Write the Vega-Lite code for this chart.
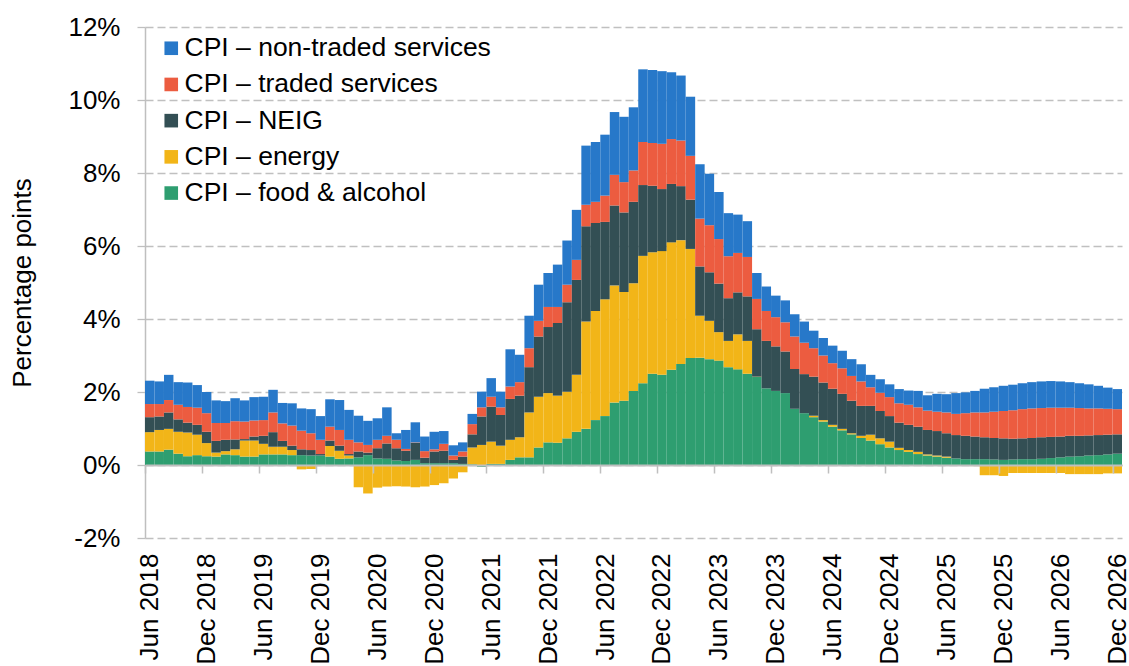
{
 "$schema": "https://vega.github.io/schema/vega-lite/v6.json",
 "width": 977, "height": 511,
 "autosize": {"type": "none"},
 "padding": {"left": 145, "top": 27, "right": 7, "bottom": 128},
 "background": "white",
 "config": {"font": "Liberation Sans", "view": {"stroke": null}},
 "datasets": {
  "series": [
   {"k": "s", "name": "CPI – non-traded services", "rank": 5},
   {"k": "t", "name": "CPI – traded services", "rank": 4},
   {"k": "n", "name": "CPI – NEIG", "rank": 3},
   {"k": "e", "name": "CPI – energy", "rank": 2},
   {"k": "f", "name": "CPI – food & alcohol", "rank": 1}
  ],
  "cpi": [
   {"m":"Jun 2018","f":0.37,"e":0.53,"n":0.41,"t":0.36,"s":0.64},
   {"m":"Jul 2018","f":0.37,"e":0.59,"n":0.37,"t":0.34,"s":0.62},
   {"m":"Aug 2018","f":0.42,"e":0.57,"n":0.45,"t":0.34,"s":0.69},
   {"m":"Sep 2018","f":0.31,"e":0.60,"n":0.34,"t":0.40,"s":0.62},
   {"m":"Oct 2018","f":0.24,"e":0.65,"n":0.27,"t":0.43,"s":0.67},
   {"m":"Nov 2018","f":0.27,"e":0.56,"n":0.27,"t":0.47,"s":0.62},
   {"m":"Dec 2018","f":0.24,"e":0.36,"n":0.31,"t":0.51,"s":0.58},
   {"m":"Jan 2019","f":0.23,"e":0.11,"n":0.32,"t":0.49,"s":0.62},
   {"m":"Feb 2019","f":0.29,"e":0.09,"n":0.31,"t":0.46,"s":0.60},
   {"m":"Mar 2019","f":0.27,"e":0.16,"n":0.27,"t":0.50,"s":0.63},
   {"m":"Apr 2019","f":0.23,"e":0.44,"n":0.04,"t":0.48,"s":0.58},
   {"m":"May 2019","f":0.23,"e":0.44,"n":0.11,"t":0.44,"s":0.64},
   {"m":"Jun 2019","f":0.29,"e":0.29,"n":0.22,"t":0.43,"s":0.64},
   {"m":"Jul 2019","f":0.29,"e":0.21,"n":0.40,"t":0.54,"s":0.62},
   {"m":"Aug 2019","f":0.29,"e":0.21,"n":0.16,"t":0.48,"s":0.56},
   {"m":"Sep 2019","f":0.27,"e":0.14,"n":0.12,"t":0.55,"s":0.61},
   {"m":"Oct 2019","f":0.27,"e":-0.12,"n":0.16,"t":0.51,"s":0.61},
   {"m":"Nov 2019","f":0.26,"e":-0.11,"n":0.15,"t":0.46,"s":0.66},
   {"m":"Dec 2019","f":0.26,"e":-0.02,"n":0.04,"t":0.39,"s":0.65},
   {"m":"Jan 2020","f":0.23,"e":0.29,"n":0.15,"t":0.38,"s":0.75},
   {"m":"Feb 2020","f":0.17,"e":0.22,"n":0.14,"t":0.43,"s":0.82},
   {"m":"Mar 2020","f":0.18,"e":0.08,"n":0.04,"t":0.39,"s":0.82},
   {"m":"Apr 2020","f":0.21,"e":-0.61,"n":0.16,"t":0.25,"s":0.73},
   {"m":"May 2020","f":0.27,"e":-0.78,"n":0.07,"t":0.21,"s":0.66},
   {"m":"Jun 2020","f":0.18,"e":-0.62,"n":0.28,"t":0.23,"s":0.59},
   {"m":"Jul 2020","f":0.17,"e":-0.59,"n":0.42,"t":0.21,"s":0.78},
   {"m":"Aug 2020","f":0.12,"e":-0.58,"n":0.34,"t":0.23,"s":0.18},
   {"m":"Sep 2020","f":0.11,"e":-0.59,"n":0.28,"t":0.05,"s":0.52},
   {"m":"Oct 2020","f":0.14,"e":-0.61,"n":0.47,"t":0.01,"s":0.55},
   {"m":"Nov 2020","f":0.05,"e":-0.59,"n":0.15,"t":0.18,"s":0.40},
   {"m":"Dec 2020","f":0.05,"e":-0.55,"n":0.32,"t":0.06,"s":0.48},
   {"m":"Jan 2021","f":0.05,"e":-0.50,"n":0.34,"t":0.19,"s":0.35},
   {"m":"Feb 2021","f":0.05,"e":-0.37,"n":0.09,"t":0.12,"s":0.28},
   {"m":"Mar 2021","f":0.03,"e":-0.20,"n":0.20,"t":0.14,"s":0.25},
   {"m":"Apr 2021","f":0.02,"e":0.46,"n":0.36,"t":0.28,"s":0.28},
   {"m":"May 2021","f":-0.05,"e":0.55,"n":0.78,"t":0.25,"s":0.43},
   {"m":"Jun 2021","f":0.03,"e":0.61,"n":0.96,"t":0.27,"s":0.51},
   {"m":"Jul 2021","f":0.03,"e":0.50,"n":0.84,"t":0.21,"s":0.43},
   {"m":"Aug 2021","f":0.14,"e":0.55,"n":1.12,"t":0.34,"s":1.02},
   {"m":"Sep 2021","f":0.21,"e":0.55,"n":1.14,"t":0.37,"s":0.75},
   {"m":"Oct 2021","f":0.21,"e":1.23,"n":1.24,"t":0.52,"s":0.89},
   {"m":"Nov 2021","f":0.48,"e":1.39,"n":1.65,"t":0.43,"s":0.99},
   {"m":"Dec 2021","f":0.62,"e":1.35,"n":1.81,"t":0.55,"s":0.93},
   {"m":"Jan 2022","f":0.61,"e":1.29,"n":1.99,"t":0.44,"s":1.16},
   {"m":"Feb 2022","f":0.73,"e":1.28,"n":2.45,"t":0.48,"s":1.21},
   {"m":"Mar 2022","f":0.91,"e":1.56,"n":2.60,"t":0.55,"s":1.37},
   {"m":"Apr 2022","f":0.99,"e":2.94,"n":2.61,"t":0.59,"s":1.62},
   {"m":"May 2022","f":1.23,"e":2.99,"n":2.41,"t":0.58,"s":1.64},
   {"m":"Jun 2022","f":1.34,"e":3.20,"n":2.12,"t":0.72,"s":1.67},
   {"m":"Jul 2022","f":1.71,"e":3.21,"n":2.19,"t":0.84,"s":1.72},
   {"m":"Aug 2022","f":1.76,"e":2.98,"n":2.18,"t":0.83,"s":1.79},
   {"m":"Sep 2022","f":2.03,"e":2.95,"n":2.23,"t":0.86,"s":1.73},
   {"m":"Oct 2022","f":2.24,"e":3.49,"n":1.94,"t":1.18,"s":1.99},
   {"m":"Nov 2022","f":2.50,"e":3.33,"n":1.82,"t":1.17,"s":2.00},
   {"m":"Dec 2022","f":2.47,"e":3.39,"n":1.70,"t":1.24,"s":1.99},
   {"m":"Jan 2023","f":2.61,"e":3.49,"n":1.60,"t":1.23,"s":1.83},
   {"m":"Feb 2023","f":2.77,"e":3.39,"n":1.48,"t":1.25,"s":1.78},
   {"m":"Mar 2023","f":2.93,"e":2.99,"n":1.35,"t":1.20,"s":1.62},
   {"m":"Apr 2023","f":2.94,"e":1.15,"n":1.35,"t":1.31,"s":1.49},
   {"m":"May 2023","f":2.90,"e":1.05,"n":1.33,"t":1.29,"s":1.41},
   {"m":"Jun 2023","f":2.86,"e":0.78,"n":1.33,"t":1.22,"s":1.29},
   {"m":"Jul 2023","f":2.68,"e":0.72,"n":1.17,"t":1.15,"s":1.18},
   {"m":"Aug 2023","f":2.62,"e":0.96,"n":1.15,"t":1.08,"s":1.05},
   {"m":"Sep 2023","f":2.50,"e":0.90,"n":1.22,"t":1.08,"s":0.98},
   {"m":"Oct 2023","f":2.41,"e":0.01,"n":1.30,"t":0.83,"s":0.71},
   {"m":"Nov 2023","f":2.10,"e":-0.02,"n":1.30,"t":0.82,"s":0.67},
   {"m":"Dec 2023","f":2.03,"e":0.00,"n":1.22,"t":0.80,"s":0.59},
   {"m":"Jan 2024","f":1.97,"e":-0.02,"n":1.14,"t":0.80,"s":0.60},
   {"m":"Feb 2024","f":1.54,"e":-0.02,"n":1.09,"t":0.89,"s":0.61},
   {"m":"Mar 2024","f":1.42,"e":0.00,"n":1.07,"t":0.86,"s":0.58},
   {"m":"Apr 2024","f":1.31,"e":0.04,"n":1.07,"t":0.78,"s":0.48},
   {"m":"May 2024","f":1.19,"e":0.04,"n":1.03,"t":0.74,"s":0.48},
   {"m":"Jun 2024","f":1.05,"e":0.05,"n":0.99,"t":0.70,"s":0.48},
   {"m":"Jul 2024","f":0.95,"e":0.04,"n":0.96,"t":0.70,"s":0.48},
   {"m":"Aug 2024","f":0.84,"e":0.03,"n":0.89,"t":0.68,"s":0.46},
   {"m":"Sep 2024","f":0.74,"e":0.06,"n":0.82,"t":0.67,"s":0.47},
   {"m":"Oct 2024","f":0.67,"e":0.16,"n":0.79,"t":0.51,"s":0.34},
   {"m":"Nov 2024","f":0.57,"e":0.16,"n":0.75,"t":0.50,"s":0.37},
   {"m":"Dec 2024","f":0.48,"e":0.16,"n":0.70,"t":0.52,"s":0.35},
   {"m":"Jan 2025","f":0.41,"e":0.06,"n":0.69,"t":0.53,"s":0.39},
   {"m":"Feb 2025","f":0.36,"e":0.05,"n":0.69,"t":0.55,"s":0.39},
   {"m":"Mar 2025","f":0.30,"e":0.06,"n":0.69,"t":0.53,"s":0.45},
   {"m":"Apr 2025","f":0.26,"e":0.03,"n":0.67,"t":0.53,"s":0.42},
   {"m":"May 2025","f":0.23,"e":0.03,"n":0.67,"t":0.53,"s":0.49},
   {"m":"Jun 2025","f":0.20,"e":0.03,"n":0.64,"t":0.57,"s":0.50},
   {"m":"Jul 2025","f":0.18,"e":0.00,"n":0.64,"t":0.58,"s":0.57},
   {"m":"Aug 2025","f":0.16,"e":-0.02,"n":0.64,"t":0.62,"s":0.57},
   {"m":"Sep 2025","f":0.16,"e":-0.03,"n":0.62,"t":0.66,"s":0.59},
   {"m":"Oct 2025","f":0.16,"e":-0.28,"n":0.60,"t":0.68,"s":0.65},
   {"m":"Nov 2025","f":0.15,"e":-0.28,"n":0.59,"t":0.72,"s":0.67},
   {"m":"Dec 2025","f":0.14,"e":-0.30,"n":0.59,"t":0.75,"s":0.69},
   {"m":"Jan 2026","f":0.15,"e":-0.22,"n":0.57,"t":0.78,"s":0.70},
   {"m":"Feb 2026","f":0.16,"e":-0.22,"n":0.57,"t":0.80,"s":0.71},
   {"m":"Mar 2026","f":0.16,"e":-0.22,"n":0.58,"t":0.81,"s":0.72},
   {"m":"Apr 2026","f":0.17,"e":-0.22,"n":0.59,"t":0.80,"s":0.73},
   {"m":"May 2026","f":0.19,"e":-0.22,"n":0.58,"t":0.80,"s":0.73},
   {"m":"Jun 2026","f":0.21,"e":-0.22,"n":0.57,"t":0.79,"s":0.72},
   {"m":"Jul 2026","f":0.23,"e":-0.25,"n":0.57,"t":0.77,"s":0.70},
   {"m":"Aug 2026","f":0.24,"e":-0.25,"n":0.56,"t":0.76,"s":0.68},
   {"m":"Sep 2026","f":0.26,"e":-0.25,"n":0.55,"t":0.74,"s":0.66},
   {"m":"Oct 2026","f":0.27,"e":-0.25,"n":0.55,"t":0.73,"s":0.62},
   {"m":"Nov 2026","f":0.29,"e":-0.23,"n":0.54,"t":0.71,"s":0.58},
   {"m":"Dec 2026","f":0.31,"e":-0.23,"n":0.53,"t":0.69,"s":0.55}
  ]
 },
 "data": {"name": "cpi"},
 "transform": [
  {"fold": ["f", "e", "n", "t", "s"], "as": ["k", "value"]},
  {"lookup": "k", "from": {"data": {"name": "series"}, "key": "k", "fields": ["name", "rank"]}}
 ],
 "mark": {"type": "bar"},
 "encoding": {
  "x": {
   "field": "m", "type": "ordinal", "sort": null,
   "scale": {"paddingInner": 0, "paddingOuter": 0, "align": 0},
   "axis": {
    "values": ["Jun 2018","Dec 2018","Jun 2019","Dec 2019","Jun 2020","Dec 2020","Jun 2021","Dec 2021","Jun 2022","Dec 2022","Jun 2023","Dec 2023","Jun 2024","Dec 2024","Jun 2025","Dec 2025","Jun 2026","Dec 2026"],
    "tickOffset": -4.74, "labelOffset": 4.74, "labelAngle": -90, "labelFlush": false, "labelBound": false,
    "labelFontSize": 26, "labelColor": "#000000", "labelPadding": 80, "labelOverlap": false,
    "offset": -73, "tickSize": 8, "tickColor": "#bfbfbf", "tickWidth": 1.5,
    "domainColor": "#bfbfbf", "domainWidth": 2, "title": null, "grid": false, "zindex": 1
   }
  },
  "y": {
   "field": "value", "type": "quantitative", "stack": "zero",
   "scale": {"domain": [-2, 12], "nice": false, "zero": false},
   "axis": {
    "values": [-2, 0, 2, 4, 6, 8, 10, 12], "labelExpr": "datum.value + '%'",
    "labelFontSize": 26, "labelColor": "#000000", "labelPadding": 17,
    "tickSize": 8, "tickColor": "#bfbfbf", "tickWidth": 1.3,
    "domainColor": "#bfbfbf", "domainWidth": 1.5,
    "grid": true, "gridColor": "#c0c0c0", "gridDash": [8, 4], "gridWidth": 1.3,
    "title": "Percentage points", "titleFontSize": 26, "titleFontWeight": "normal", "titleColor": "#000000", "titlePadding": 32
   }
  },
  "color": {
   "field": "name", "type": "nominal",
   "scale": {
    "domain": ["CPI – non-traded services", "CPI – traded services", "CPI – NEIG", "CPI – energy", "CPI – food & alcohol"],
    "range": ["#2778C9", "#EC5C40", "#334F54", "#F2B518", "#2E9E70"]
   },
   "legend": {
    "orient": "none", "legendX": 13, "legendY": 8, "title": null,
    "symbolType": "square", "symbolSize": 185, "symbolStrokeWidth": 0,
    "labelFontSize": 26.5, "labelColor": "#000000", "labelOffset": 0, "rowPadding": 9.2, "labelLimit": 600
   }
  },
  "order": {"field": "rank", "type": "quantitative"}
 }
}
